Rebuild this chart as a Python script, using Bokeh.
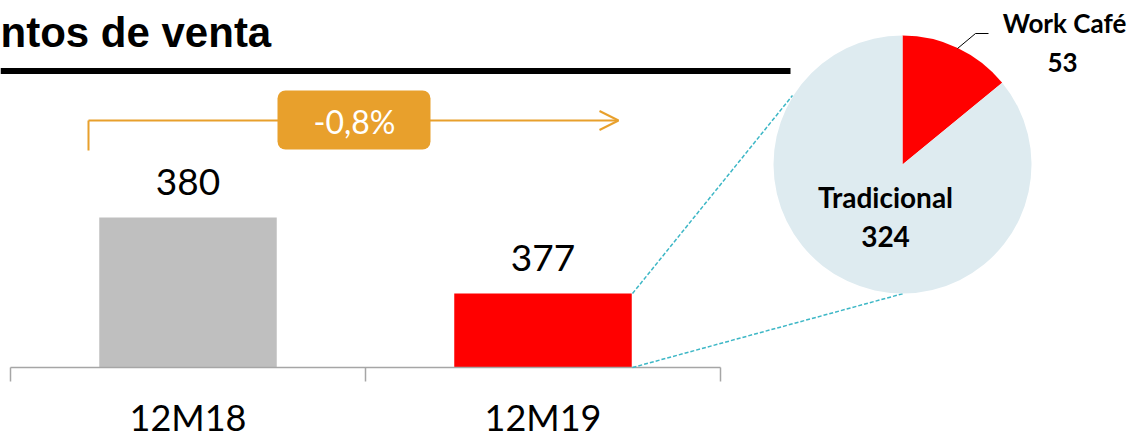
import math
from bokeh.plotting import figure
from bokeh.models import Range1d, BoxAnnotation, Arrow, OpenHead, ColumnDataSource
from bokeh.core.properties import value
from bokeh.embed import file_html
from bokeh.resources import INLINE

# ---- data ----
title_text = "ntos de venta"
categories = ["12M18", "12M19"]
totals = [380, 377]
bar_colors = ["#BFBFBF", "#FF0000"]
change_label = "-0,8%"
pie_labels = ["Work Café", "Tradicional"]   # clockwise from 12 o'clock
pie_values = [53, 324]
pie_colors = ["#FF0000", "#DEEBF0"]

W, H = 1133, 438
ORANGE = "#E8A02C"
TEAL = "#3DB7C6"
BCORR = 0.38  # baseline correction (fraction of font size)

def SX(x):  # picture x -> canvas px
    return x

def SY(y):  # picture y -> canvas px measured from bottom
    return H - y

# main scales: one category per unit, value axis truncated
unit = 355.0
k = 76.0 / 3.0
x0 = (0 - 10) / unit
x1 = (W - 10) / unit
y_lo = 380 - (H - 217) / k
y_hi = 380 + 217 / k
base = 380 - (367 - 217) / k

p = figure(width=W, height=H, x_range=Range1d(x0, x1), y_range=Range1d(y_lo, y_hi),
           output_backend="svg", toolbar_location=None, title=None,
           x_axis_location=None, y_axis_location=None, min_border=0,
           outline_line_color=None, background_fill_color="white",
           border_fill_color="white")
p.extra_x_ranges = {"px": Range1d(0, W)}
p.extra_y_ranges = {"px": Range1d(0, H)}
p.xgrid.visible = False
p.ygrid.visible = False

def ptext(xs, ys, texts, size, font="Lato", style="normal", color="black", align="center"):
    p.text(x=[SX(v) for v in xs], y=[SY(v) for v in ys], text=texts, text_font=value(font),
           text_font_style=style, text_font_size=f"{size}px", text_align=align,
           text_baseline="alphabetic", text_color=color, y_offset=-BCORR * size,
           x_range_name="px", y_range_name="px")

# ---- title and rule ----
ptext([0], [48], [title_text], 42, font="Liberation Sans", style="bold", align="left")
p.segment(x0=[SX(0)], y0=[SY(70.5)], x1=[SX(790)], y1=[SY(70.5)], line_color="black",
          line_width=6, x_range_name="px", y_range_name="px")

# ---- bars ----
xs = [i + 0.5 for i in range(len(categories))]
src = ColumnDataSource(dict(x=xs, top=totals, color=bar_colors,
                            lab=[str(v) for v in totals], cat=categories))
p.vbar(x="x", top="top", bottom=base, width=0.5, fill_color="color", line_color=None, source=src)
p.text(x="x", y="top", text="lab", source=src, text_font=value("Lato"), text_font_size="37px",
       text_align="center", text_baseline="alphabetic", y_offset=-21 - BCORR * 37,
       text_color="black")

# axis line + boundary ticks
bounds = list(range(len(categories) + 1))
p.segment(x0=[bounds[0]], y0=[SY(367)], x1=[bounds[-1]], y1=[SY(367)], line_color="#A6A6A6",
          line_width=1.5, y_range_name="px")
p.segment(x0=bounds, y0=[SY(367)] * len(bounds), x1=bounds, y1=[SY(381)] * len(bounds),
          line_color="#A6A6A6", line_width=1.5, y_range_name="px")
p.text(x="x", y=SY(430), text="cat", source=src, text_font=value("Lato"), text_font_size="36px",
       text_align="center", text_baseline="alphabetic", text_color="black",
       y_offset=-BCORR * 36, y_range_name="px")

# ---- change arrow ----
p.segment(x0=[SX(88)], y0=[SY(150)], x1=[SX(88)], y1=[SY(120)], line_color=ORANGE, line_width=2,
          x_range_name="px", y_range_name="px")
p.add_layout(Arrow(end=OpenHead(size=19, line_color=ORANGE, line_width=2),
                   x_start=SX(88), y_start=SY(120), x_end=SX(618), y_end=SY(120),
                   line_color=ORANGE, line_width=2, level="underlay",
                   x_range_name="px", y_range_name="px"))
p.add_layout(BoxAnnotation(left=SX(277), right=SX(430), top=SY(90), bottom=SY(149),
                           fill_color=ORANGE, fill_alpha=1.0, line_color=None, border_radius=8,
                           level="underlay", x_range_name="px", y_range_name="px"))
ptext([354], [133], [change_label], 32, color="white")

# ---- connector lines ----
p.segment(x0=[SX(632), SX(632)], y0=[SY(293), SY(367)], x1=[SX(792), SX(903)],
          y1=[SY(95), SY(293)], line_color=TEAL, line_width=1.5, line_dash="4 2",
          x_range_name="px", y_range_name="px")

# ---- pie ----
total = sum(pie_values)
starts, ends = [], []
a = math.pi / 2
for v in pie_values:
    b = a - 2 * math.pi * v / total
    starts.append(b)
    ends.append(a)
    a = b
p.wedge(x=SX(902), y=SY(164), radius=129, radius_units="screen", start_angle=starts,
        end_angle=ends, fill_color=pie_colors, line_color=None,
        x_range_name="px", y_range_name="px")

# pie labels
p.line(x=[SX(957), SX(975), SX(988)], y=[SY(48), SY(33), SY(33)], line_color="black",
       line_width=1, x_range_name="px", y_range_name="px")
ptext([1064, 1062], [32, 72], [pie_labels[0], str(pie_values[0])], 26, style="bold")
ptext([885, 885], [207, 247], [pie_labels[1], str(pie_values[1])], 28, style="bold")

open("out.html", "w").write(file_html(p, INLINE))
